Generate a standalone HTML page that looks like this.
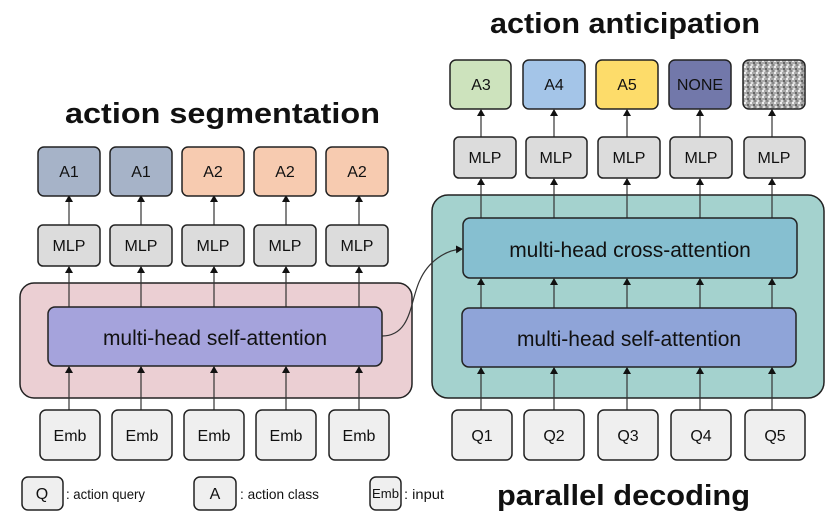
<!DOCTYPE html>
<html><head><style>
body{margin:0;background:#fff;width:827px;height:524px;overflow:hidden;font-family:"Liberation Sans",sans-serif;}
</style></head><body>
<svg width="827" height="524" viewBox="0 0 827 524" xmlns="http://www.w3.org/2000/svg" font-family="Liberation Sans, sans-serif">
<defs>
<marker id="ar" markerWidth="8" markerHeight="8" refX="6" refY="4" orient="auto" markerUnits="userSpaceOnUse"><path d="M0,0 L7,4 L0,8 z" fill="#111"/></marker>
<pattern id="noise" width="6" height="6" patternUnits="userSpaceOnUse"><rect width="6" height="6" fill="#aaa"/><rect x="0" y="0" width="2" height="2" fill="#eee"/><rect x="3" y="2" width="2" height="2" fill="#666"/><rect x="1" y="4" width="2" height="2" fill="#ddd"/><rect x="4" y="4" width="2" height="2" fill="#888"/></pattern>
</defs>
<g font-weight="bold" font-size="29" fill="#111">
<text x="490" y="33" textLength="270" lengthAdjust="spacingAndGlyphs">action anticipation</text>
<text x="65" y="123" textLength="315" lengthAdjust="spacingAndGlyphs">action segmentation</text>
<text x="497" y="505" textLength="253" lengthAdjust="spacingAndGlyphs">parallel decoding</text>
</g>
<rect x="20" y="283" width="392" height="115" rx="14" fill="#ebcfd3" stroke="#222" stroke-width="1.5"/>
<rect x="432" y="195" width="392" height="203" rx="16" fill="#a4d2ce" stroke="#222" stroke-width="1.5"/>
<g stroke="#333" stroke-width="1.2" marker-end="url(#ar)">
<line x1="69" y1="410" x2="69" y2="367"/><line x1="141" y1="410" x2="141" y2="367"/><line x1="214" y1="410" x2="214" y2="367"/><line x1="286" y1="410" x2="286" y2="367"/><line x1="359" y1="410" x2="359" y2="367"/>
<line x1="69" y1="307" x2="69" y2="267"/><line x1="141" y1="307" x2="141" y2="267"/><line x1="214" y1="307" x2="214" y2="267"/><line x1="286" y1="307" x2="286" y2="267"/><line x1="359" y1="307" x2="359" y2="267"/>
<line x1="69" y1="225" x2="69" y2="196"/><line x1="141" y1="225" x2="141" y2="196"/><line x1="214" y1="225" x2="214" y2="196"/><line x1="286" y1="225" x2="286" y2="196"/><line x1="359" y1="225" x2="359" y2="196"/>
<line x1="481" y1="410" x2="481" y2="368"/><line x1="554" y1="410" x2="554" y2="368"/><line x1="627" y1="410" x2="627" y2="368"/><line x1="700" y1="410" x2="700" y2="368"/><line x1="772" y1="410" x2="772" y2="368"/>
<line x1="481" y1="308" x2="481" y2="279"/><line x1="554" y1="308" x2="554" y2="279"/><line x1="627" y1="308" x2="627" y2="279"/><line x1="700" y1="308" x2="700" y2="279"/><line x1="772" y1="308" x2="772" y2="279"/>
<line x1="481" y1="218" x2="481" y2="179"/><line x1="554" y1="218" x2="554" y2="179"/><line x1="627" y1="218" x2="627" y2="179"/><line x1="700" y1="218" x2="700" y2="179"/><line x1="772" y1="218" x2="772" y2="179"/>
<line x1="481" y1="137" x2="481" y2="110"/><line x1="554" y1="137" x2="554" y2="110"/><line x1="627" y1="137" x2="627" y2="110"/><line x1="700" y1="137" x2="700" y2="110"/><line x1="772" y1="137" x2="772" y2="110"/>
<path d="M382,336 C412,336 410,300 420,280 C428,262 445,250 462,249" fill="none"/>
</g>
<rect x="48" y="307" width="334" height="59" rx="7" fill="#a5a3dc" stroke="#222" stroke-width="1.5"/>
<text x="215" y="345" text-anchor="middle" font-size="21" fill="#111">multi-head self-attention</text>
<rect x="463" y="218" width="334" height="60" rx="7" fill="#86bfd0" stroke="#222" stroke-width="1.5"/>
<text x="630" y="257" text-anchor="middle" font-size="21" fill="#111">multi-head cross-attention</text>
<rect x="462" y="308" width="334" height="59" rx="7" fill="#8fa4d8" stroke="#222" stroke-width="1.5"/>
<text x="629" y="346" text-anchor="middle" font-size="21" fill="#111">multi-head self-attention</text>
<g stroke="#222" stroke-width="1.5">
<rect x="38" y="147" width="62" height="49" rx="6" fill="#a6b3c8"/><rect x="110" y="147" width="62" height="49" rx="6" fill="#a6b3c8"/>
<rect x="182" y="147" width="62" height="49" rx="6" fill="#f7cbb0"/><rect x="254" y="147" width="62" height="49" rx="6" fill="#f7cbb0"/><rect x="326" y="147" width="62" height="49" rx="6" fill="#f7cbb0"/>
<rect x="38" y="225" width="62" height="41" rx="5" fill="#dcdcdc"/><rect x="110" y="225" width="62" height="41" rx="5" fill="#dcdcdc"/><rect x="182" y="225" width="62" height="41" rx="5" fill="#dcdcdc"/><rect x="254" y="225" width="62" height="41" rx="5" fill="#dcdcdc"/><rect x="326" y="225" width="62" height="41" rx="5" fill="#dcdcdc"/>
<rect x="40" y="410" width="60" height="50" rx="6" fill="#efefef"/><rect x="112" y="410" width="60" height="50" rx="6" fill="#efefef"/><rect x="184" y="410" width="60" height="50" rx="6" fill="#efefef"/><rect x="256" y="410" width="60" height="50" rx="6" fill="#efefef"/><rect x="329" y="410" width="60" height="50" rx="6" fill="#efefef"/>
<rect x="450" y="60" width="61" height="49" rx="6" fill="#cde3bd"/><rect x="523" y="60" width="62" height="49" rx="6" fill="#a4c5e8"/><rect x="596" y="60" width="62" height="49" rx="6" fill="#fddc6a"/><rect x="669" y="60" width="62" height="49" rx="6" fill="#7278aa"/><rect x="743" y="60" width="62" height="49" rx="6" fill="url(#noise)"/>
<rect x="454" y="137" width="62" height="41" rx="5" fill="#dcdcdc"/><rect x="526" y="137" width="61" height="41" rx="5" fill="#dcdcdc"/><rect x="598" y="137" width="62" height="41" rx="5" fill="#dcdcdc"/><rect x="670" y="137" width="62" height="41" rx="5" fill="#dcdcdc"/><rect x="744" y="137" width="61" height="41" rx="5" fill="#dcdcdc"/>
<rect x="452" y="410" width="60" height="50" rx="6" fill="#efefef"/><rect x="524" y="410" width="60" height="50" rx="6" fill="#efefef"/><rect x="598" y="410" width="60" height="50" rx="6" fill="#efefef"/><rect x="671" y="410" width="60" height="50" rx="6" fill="#efefef"/><rect x="745" y="410" width="60" height="50" rx="6" fill="#efefef"/>
<rect x="22" y="477" width="41" height="33" rx="6" fill="#efefef"/><rect x="194" y="477" width="42" height="33" rx="6" fill="#efefef"/><rect x="370" y="477" width="31" height="33" rx="6" fill="#efefef"/>
</g>
<g font-size="16" text-anchor="middle" fill="#111">
<text x="69" y="177">A1</text><text x="141" y="177">A1</text><text x="213" y="177">A2</text><text x="285" y="177">A2</text><text x="357" y="177">A2</text>
<text x="69" y="251">MLP</text><text x="141" y="251">MLP</text><text x="213" y="251">MLP</text><text x="285" y="251">MLP</text><text x="357" y="251">MLP</text>
<text x="70" y="441">Emb</text><text x="142" y="441">Emb</text><text x="214" y="441">Emb</text><text x="286" y="441">Emb</text><text x="359" y="441">Emb</text>
<text x="481" y="90">A3</text><text x="554" y="90">A4</text><text x="627" y="90">A5</text><text x="700" y="90">NONE</text>
<text x="485" y="163">MLP</text><text x="556" y="163">MLP</text><text x="629" y="163">MLP</text><text x="701" y="163">MLP</text><text x="774" y="163">MLP</text>
<text x="482" y="441">Q1</text><text x="554" y="441">Q2</text><text x="628" y="441">Q3</text><text x="701" y="441">Q4</text><text x="775" y="441">Q5</text>
<text x="42" y="499">Q</text><text x="215" y="499">A</text><text x="385.5" y="498" font-size="13" textLength="27" lengthAdjust="spacingAndGlyphs">Emb</text>
</g>
<g font-size="14" fill="#111">
<text x="66" y="499" textLength="79" lengthAdjust="spacingAndGlyphs">: action query</text><text x="240" y="499" textLength="79" lengthAdjust="spacingAndGlyphs">: action class</text><text x="404" y="499" textLength="40" lengthAdjust="spacingAndGlyphs">: input</text>
</g>
</svg>
</body></html>
